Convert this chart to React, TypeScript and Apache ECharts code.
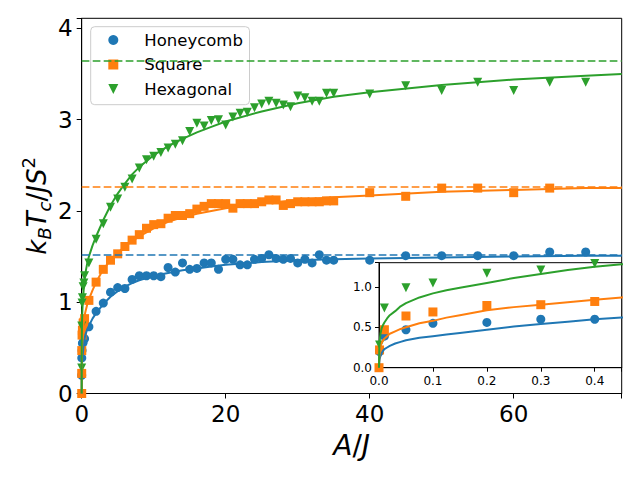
import React, { useEffect, useRef } from 'react';
import * as echarts from 'echarts';

// ---------- data ----------
const X_DATA = [
  0, 0.001, 0.01, 0.05, 0.1, 0.2, 0.3, 0.4,
  1, 2, 3, 4, 5, 6, 7, 8, 9, 10, 11, 12, 13, 14, 15, 16, 17, 18, 19, 20,
  21, 22, 23, 24, 25, 26, 27, 28, 29, 30, 31, 32, 33, 34, 35,
  40, 45, 50, 55, 60, 65, 70,
];
const HONEYCOMB = [
  null, 0.2, 0.39, 0.47, 0.55, 0.56, 0.6, 0.6,
  0.73, 0.9, 0.99, 1.11, 1.16, 1.15, 1.25, 1.29, 1.29, 1.29, 1.28, 1.38, 1.33, 1.43, 1.36, 1.37, 1.43, 1.43, 1.36, 1.47,
  1.47, 1.41, 1.41, 1.47, 1.48, 1.52, 1.48, 1.47, 1.48, 1.43, 1.47, 1.43, 1.52, 1.46, 1.46,
  1.46, 1.51, 1.51, 1.51, 1.51, 1.55, 1.55,
];
const SQUARE = [
  0, 0.22, 0.47, 0.64, 0.69, 0.77, 0.78, 0.82,
  1.02, 1.22, 1.36, 1.46, 1.53, 1.61, 1.68, 1.74, 1.81, 1.85, 1.86, 1.92, 1.95, 1.95, 1.97, 2.02, 2.05, 2.08, 2.08, 2.08,
  2.03, 2.08, 2.08, 2.08, 2.1, 2.12, 2.12, 2.06, 2.08, 2.1, 2.1, 2.1, 2.1, 2.11, 2.11,
  2.2, 2.16, 2.25, 2.25, 2.2, 2.25, null,
];
const HEXAGONAL = [
  null, 0.28, 0.74, 0.99, 1.05, 1.17, 1.21, 1.29,
  1.43, 1.69, 1.86, 2.04, 2.13, 2.26, 2.35, 2.47, 2.56, 2.6, 2.64, 2.69, 2.73, 2.77, 2.87, 2.96, 2.93, 2.99, 3.0, 2.94,
  3.03, 3.07, 3.08, 3.13, 3.17, 3.2, 3.18, 3.16, 3.14, 3.26, 3.24, 3.2, 3.2, 3.29, 3.29,
  3.28, 3.37, 3.32, 3.41, 3.32, 3.41, 3.41,
];

// fitted curves
const FIT_X = [
  0, 0.0005, 0.001, 0.002, 0.003, 0.005, 0.0075, 0.01, 0.015, 0.02, 0.03, 0.04, 0.05, 0.075,
  0.1, 0.125, 0.15, 0.2, 0.25, 0.3, 0.35, 0.4, 0.45, 0.5, 0.75, 1, 1.5, 2, 2.5, 3, 4, 5, 6, 7, 8,
  10, 12, 14, 16, 18, 20, 25, 30, 35, 40, 50, 60, 70, 75,
];
const FIT_HONEYCOMB = [
  0, 0.07, 0.1, 0.13, 0.15, 0.18, 0.21, 0.23, 0.25, 0.27, 0.3, 0.32, 0.34, 0.37,
  0.39, 0.41, 0.43, 0.47, 0.51, 0.54, 0.57, 0.6, 0.62, 0.64, 0.7, 0.74, 0.82, 0.88, 0.93, 0.98, 1.06, 1.12, 1.17, 1.21, 1.24,
  1.29, 1.32, 1.35, 1.37, 1.39, 1.41, 1.44, 1.46, 1.47, 1.48, 1.49, 1.5, 1.51, 1.51,
];
const FIT_SQUARE = [
  0, 0.12, 0.17, 0.23, 0.27, 0.31, 0.34, 0.36, 0.39, 0.42, 0.45, 0.48, 0.5, 0.55,
  0.58, 0.62, 0.65, 0.71, 0.75, 0.78, 0.81, 0.84, 0.87, 0.89, 0.97, 1.03, 1.13, 1.22, 1.29, 1.36, 1.46, 1.54, 1.61, 1.67, 1.72,
  1.81, 1.88, 1.93, 1.97, 2.0, 2.03, 2.08, 2.12, 2.15, 2.17, 2.21, 2.23, 2.25, 2.25,
];
const FIT_HEXAGONAL = [
  0, 0.22, 0.3, 0.38, 0.43, 0.49, 0.53, 0.56, 0.61, 0.65, 0.7, 0.76, 0.8, 0.87,
  0.92, 0.96, 0.99, 1.05, 1.11, 1.16, 1.21, 1.25, 1.28, 1.31, 1.42, 1.5, 1.62, 1.72, 1.81, 1.9, 2.06, 2.19, 2.3, 2.4, 2.48,
  2.61, 2.71, 2.79, 2.86, 2.92, 2.98, 3.09, 3.18, 3.25, 3.3, 3.38, 3.44, 3.48, 3.5,
];

const ASYMPTOTES = [1.52, 2.27, 3.65];
const SERIES_NAMES = ['Honeycomb', 'Square', 'Hexagonal'];

// ---------- style ----------
const COLORS = ['#1f77b4', '#ff7f0e', '#2ca02c'];
const SYMBOLS = ['circle', 'rect', 'path://M0,0L10,0L5,10Z'];
const FONT = 'DejaVu Sans';

const zip = (xs: number[], ys: (number | null)[]) =>
  xs.map((x, i) => [x, ys[i]]).filter((p) => p[1] !== null);

export default function App() {
  const ref = useRef<HTMLDivElement>(null);
  useEffect(() => {
    if (!ref.current) return;
    const chart = echarts.init(ref.current, null, { renderer: 'svg' });
    const pointSets = [HONEYCOMB, SQUARE, HEXAGONAL];
    const fitSets = [FIT_HONEYCOMB, FIT_SQUARE, FIT_HEXAGONAL];

    const series: any[] = [];
    [0, 1].forEach((g) => {
      pointSets.forEach((ys, k) => {
        series.push({
          type: 'scatter',
          name: SERIES_NAMES[k],
          xAxisIndex: g,
          yAxisIndex: g,
          data: zip(X_DATA, ys),
          symbol: SYMBOLS[k],
          symbolSize: 9,
          itemStyle: { color: COLORS[k], opacity: 1 },
          z: g === 0 ? 2 : 12,
          clip: true,
          silent: true,
        });
      });
      fitSets.forEach((ys, k) => {
        const s: any = {
          type: 'line',
          name: 'fit' + k + '_' + g,
          xAxisIndex: g,
          yAxisIndex: g,
          data: zip(FIT_X, ys),
          showSymbol: false,
          symbol: 'none',
          smooth: false,
          clip: true,
          lineStyle: { color: COLORS[k], width: 2, join: 'round' },
          z: g === 0 ? 3 : 13,
          silent: true,
        };
        if (g === 0) {
          s.markLine = {
            silent: true,
            symbol: 'none',
            label: { show: false },
            lineStyle: { color: COLORS[k], width: 1.5, type: [7.7, 3.3] },
            data: [{ yAxis: ASYMPTOTES[k] }],
          };
        }
        series.push(s);
      });
    });

    const axisCommon = {
      axisLine: { show: true, onZero: false, lineStyle: { color: '#000', width: 1 } },
      axisTick: { show: true, inside: false, length: 5, lineStyle: { color: '#000', width: 1 } },
      splitLine: { show: false },
    };

    chart.setOption({
      animation: false,
      backgroundColor: '#fff',
      textStyle: { fontFamily: FONT },
      grid: [
        {
          left: 81.7, right: 18.3, top: 18.3, bottom: 86.5,
          show: true, borderColor: '#000', borderWidth: 1, backgroundColor: 'transparent',
          outerBoundsMode: 'none', containLabel: false,
        },
        {
          left: 379, right: 18.3, top: 262.7, bottom: 112.3,
          show: true, borderColor: '#000', borderWidth: 1, backgroundColor: '#fff',
          z: 10, outerBoundsMode: 'none', containLabel: false,
        },
      ],
      xAxis: [
        {
          type: 'value', gridIndex: 0, min: 0, max: 75, interval: 20,
          ...axisCommon,
          axisLabel: {
            fontSize: 23, color: '#000', fontFamily: FONT, margin: 9,
            formatter: (v: number) => (v % 20 === 0 ? String(v) : ''),
          },
          name: '{i|A}{n|/}{i|J}',
          nameLocation: 'middle',
          nameGap: 38,
          nameMoveOverlap: false,
          nameTextStyle: {
            verticalAlign: 'top',
            rich: {
              i: { fontSize: 28, fontStyle: 'italic', fontFamily: FONT, color: '#000' },
              n: { fontSize: 28, fontFamily: FONT, color: '#000' },
            },
          },
        },
        {
          type: 'value', gridIndex: 1, min: 0, max: 0.45, interval: 0.1, z: 11,
          ...axisCommon,
          axisTick: { show: true, length: 4, lineStyle: { color: '#000', width: 1 } },
          axisLabel: {
            fontSize: 12, color: '#000', fontFamily: FONT, margin: 7,
            formatter: (v: number) =>
              Math.abs(v * 10 - Math.round(v * 10)) < 1e-6 ? v.toFixed(1) : '',
          },
        },
      ],
      yAxis: [
        {
          type: 'value', gridIndex: 0, min: 0, max: 4.11, interval: 1,
          ...axisCommon,
          axisLabel: {
            fontSize: 23, color: '#000', fontFamily: FONT, margin: 9,
            formatter: (v: number) => (Number.isInteger(v) ? String(v) : ''),
          },
          name: '{i|k}{sub|B}{i|T}{sub|c}{n|/}{i|JS}{sup|2}',
          nameLocation: 'middle',
          nameGap: 28,
          nameMoveOverlap: false,
          nameTextStyle: {
            rich: {
              i: { fontSize: 26, fontStyle: 'italic', fontFamily: FONT, color: '#000', lineHeight: 34 },
              n: { fontSize: 26, fontFamily: FONT, color: '#000', lineHeight: 34 },
              sub: { fontSize: 18, fontStyle: 'italic', fontFamily: FONT, color: '#000', lineHeight: 18, verticalAlign: 'bottom' },
              sup: { fontSize: 18, fontFamily: FONT, color: '#000', lineHeight: 22, verticalAlign: 'top' },
            },
          },
        },
        {
          type: 'value', gridIndex: 1, min: 0, max: 1.3, interval: 0.5, z: 11,
          ...axisCommon,
          axisTick: { show: true, length: 4, lineStyle: { color: '#000', width: 1 } },
          axisLabel: {
            fontSize: 12, color: '#000', fontFamily: FONT, margin: 7,
            formatter: (v: number) =>
              Math.abs(v * 2 - Math.round(v * 2)) < 1e-6 ? v.toFixed(1) : '',
          },
        },
      ],
      legend: {
        show: true,
        orient: 'vertical',
        left: 90.7,
        top: 26.7,
        data: SERIES_NAMES,
        itemWidth: 10,
        itemHeight: 10,
        itemGap: 6.5,
        padding: [4.3, 6.6, 6.7, 17.6],
        backgroundColor: 'rgba(255,255,255,0.8)',
        borderColor: '#cccccc',
        borderWidth: 1,
        borderRadius: 4,
        selectedMode: false,
        textStyle: { fontSize: 16.5, fontFamily: FONT, color: '#000', lineHeight: 18, padding: [0, 0, 0, 21] },
        z: 5,
      },
      series,
    });
    return () => chart.dispose();
  }, []);
  return (
    <div
      ref={ref}
      style={{ position: 'absolute', left: 0, top: 0, width: 640, height: 480 }}
    />
  );
}
